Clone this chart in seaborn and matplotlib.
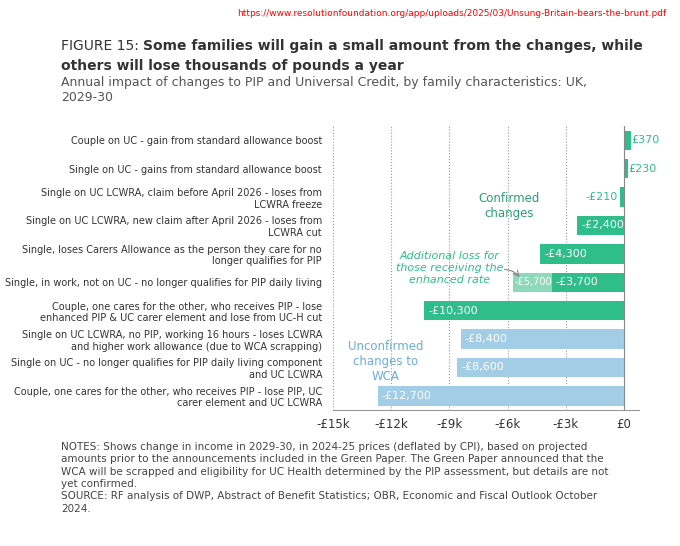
import numpy as np
import pandas as pd
import matplotlib.pyplot as plt
import seaborn as sns

labels = [
    "Couple on UC - gain from standard allowance boost",
    "Single on UC - gains from standard allowance boost",
    "Single on UC LCWRA, claim before April 2026 - loses from\nLCWRA freeze",
    "Single on UC LCWRA, new claim after April 2026 - loses from\nLCWRA cut",
    "Single, loses Carers Allowance as the person they care for no\nlonger qualifies for PIP",
    "Single, in work, not on UC - no longer qualifies for PIP daily living",
    "Couple, one cares for the other, who receives PIP - lose\nenhanced PIP & UC carer element and lose from UC-H cut",
    "Single on UC LCWRA, no PIP, working 16 hours - loses LCWRA\nand higher work allowance (due to WCA scrapping)",
    "Single on UC - no longer qualifies for PIP daily living component\nand UC LCWRA",
    "Couple, one cares for the other, who receives PIP - lose PIP, UC\ncarer element and UC LCWRA",
]
values = [370, 230, -210, -2400, -4300, -3700, -10300, -8400, -8600, -12700]
enhanced = [0, 0, 0, 0, 0, -5700, 0, 0, 0, 0]
confirmed = [True] * 7 + [False] * 3
value_text = ["£370", "£230", "-£210", "-£2,400", "-£4,300", "-£3,700",
              "-£10,300", "-£8,400", "-£8,600", "-£12,700"]

GREEN = "#2ebd8b"
LIGHT_GREEN = "#8ed8bb"
BLUE = "#a3cde6"

df = pd.DataFrame({"label": labels, "value": values, "enhanced": enhanced})
colors = {l: (GREEN if c else BLUE) for l, c in zip(labels, confirmed)}

fig = plt.figure(figsize=(6.8, 5.46), dpi=100)
ax = fig.add_axes([0.49, 0.249, 0.45, 0.52])

sns.barplot(data=df, x="enhanced", y="label", color=LIGHT_GREEN, width=0.68,
            orient="h", ax=ax, saturation=1)
sns.barplot(data=df, x="value", y="label", hue="label", palette=colors,
            width=0.68, orient="h", ax=ax, legend=False, saturation=1)

ax.set_xlim(-15000, 800)
ax.set_xticks([-15000, -12000, -9000, -6000, -3000, 0])
ax.set_xticklabels(["-£15k", "-£12k", "-£9k", "-£6k", "-£3k", "£0"],
                   fontsize=8.5, color="#333333")
ax.set_xlabel("")
ax.set_ylabel("")
ax.tick_params(axis="y", length=0, labelsize=7, colors="#333333", pad=8)
ax.tick_params(axis="x", length=0, pad=6)
ax.xaxis.grid(True, linestyle=":", color="#999999", linewidth=0.8)
ax.set_axisbelow(True)
for s in ["top", "right", "left"]:
    ax.spines[s].set_visible(False)
ax.spines["bottom"].set_color("#999999")
ax.axvline(0, color="#888888", linewidth=0.8)

for i, (v, txt) in enumerate(zip(values, value_text)):
    if abs(v) < 1000:
        if v > 0:
            ax.text(v + 30, i, txt, va="center", ha="left", fontsize=8, color=GREEN)
        else:
            ax.text(v - 80, i, txt, va="center", ha="right", fontsize=8, color=GREEN)
    else:
        ax.text(v + 200, i, txt, va="center", ha="left", fontsize=8, color="white")
ax.text(-5700 + 80, 5, "-£5,700", va="center", ha="left", fontsize=7, color="white")

ax.text(-5900, 2.3, "Confirmed\nchanges", ha="center", va="center",
        fontsize=8.5, color="#2a9d74")
ax.text(-9000, 4.5, "Additional loss for\nthose receiving the\nenhanced rate",
        ha="center", va="center", fontsize=8, color="#2ebd8b", style="italic")
ax.annotate("", xy=(-5300, 4.9), xytext=(-6300, 4.55),
            arrowprops=dict(arrowstyle="->", color="#888888",
                            connectionstyle="arc3,rad=-0.3", lw=0.8))
ax.text(-12300, 7.8, "Unconfirmed\nchanges to\nWCA", ha="center", va="center",
        fontsize=8.5, color="#6aaed6")

fig.text(0.98, 0.975, "https://www.resolutionfoundation.org/app/uploads/2025/03/Unsung-Britain-bears-the-brunt.pdf",
         ha="right", va="center", fontsize=6.5, color="red")
t1 = fig.text(0.09, 0.915, "FIGURE 15: ", fontsize=10, color="#333333", va="center")
fig.canvas.draw()
bb = t1.get_window_extent().transformed(fig.transFigure.inverted())
fig.text(bb.x1, 0.915, "Some families will gain a small amount from the changes, while",
         fontsize=10, fontweight="bold", color="#333333", va="center")
fig.text(0.09, 0.88, "others will lose thousands of pounds a year",
         fontsize=10, fontweight="bold", color="#333333", va="center")
fig.text(0.09, 0.835, "Annual impact of changes to PIP and Universal Credit, by family characteristics: UK,\n2029-30",
         fontsize=9, color="#555555", va="center", linespacing=1.2)
fig.text(0.09, 0.125,
         "NOTES: Shows change in income in 2029-30, in 2024-25 prices (deflated by CPI), based on projected\n"
         "amounts prior to the announcements included in the Green Paper. The Green Paper announced that the\n"
         "WCA will be scrapped and eligibility for UC Health determined by the PIP assessment, but details are not\n"
         "yet confirmed.\n"
         "SOURCE: RF analysis of DWP, Abstract of Benefit Statistics; OBR, Economic and Fiscal Outlook October\n"
         "2024.",
         fontsize=7.5, color="#444444", va="center", linespacing=1.3)

fig.savefig("out.png", dpi=100)
